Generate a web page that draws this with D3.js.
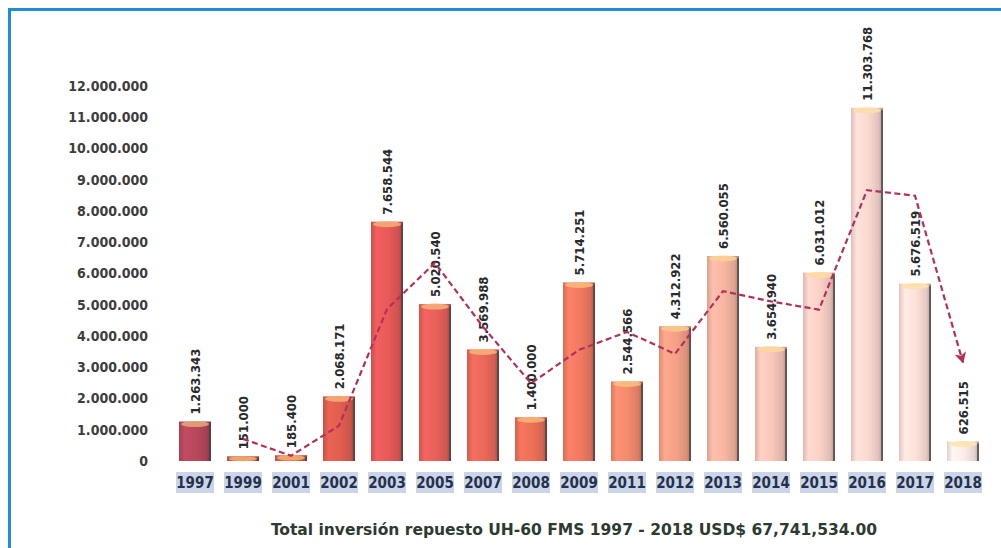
<!DOCTYPE html>
<html lang="es">
<head>
  <meta charset="UTF-8">
  <title>Total inversión repuesto UH-60</title>
  <style>
    body {
      margin: 0;
      background: #fff;
      font-family: "DejaVu Sans Condensed", "DejaVu Sans", sans-serif;
    }
    svg { display: block; }
    .cond { font-family: "DejaVu Sans Condensed", "DejaVu Sans", sans-serif; font-stretch: condensed; font-weight: bold; }
  </style>
</head>
<body>

<div id="chart"></div>

<script src="https://d3js.org/d3.v7.min.js"></script>
<script>
  // Data
  const years = ['1997', '1999', '2001', '2002', '2003', '2005', '2007', '2008', '2009',
                 '2011', '2012', '2013', '2014', '2015', '2016', '2017', '2018'];
  const amounts = [1263343, 151000, 185400, 2068171, 7658544, 5020540, 3569988, 1400000, 5714251,
                   2544566, 4312922, 6560055, 3654940, 6031012, 11303768, 5676519, 626515];
  // dashed trend line (2-period moving average), starts at 1999
  const trendYears = ['1999', '2001', '2002', '2003', '2005', '2007', '2008', '2009',
                      '2011', '2012', '2013', '2014', '2015', '2016', '2017', '2018'];
  const trendAmounts = [707000, 168000, 1127000, 4863000, 6340000, 4295000, 2485000, 3557000,
                        4129000, 3429000, 5436000, 5107000, 4843000, 8667000, 8490000, 3152000];
  const yTicks = [0, 1000000, 2000000, 3000000, 4000000, 5000000, 6000000,
                  7000000, 8000000, 9000000, 10000000, 11000000, 12000000];
  const barColors = ['#b8485c', '#d2604a', '#d9604a', '#e05e50', '#e65a58', '#e8605a', '#ea685c',
                     '#ec7058', '#f07a62', '#f28a6c', '#f4a086', '#f6b6a2', '#f8c6ba', '#f9d0c6',
                     '#fad8d0', '#fce0d8', '#fdebe6'];
  const title = 'Total inversión repuesto UH-60 FMS 1997 - 2018 USD$ 67,741,534.00';

  const width = 1001;
  const height = 548;

  const svg = d3.select('#chart')
    .append('svg')
    .attr('width', width)
    .attr('height', height);

  const defs = svg.append('defs');

  // blue frame (only top and left edges are inside the picture)
  svg.append('rect')
    .attr('x', 9.5)
    .attr('y', 9.5)
    .attr('width', 1100)
    .attr('height', 700)
    .attr('fill', 'none')
    .attr('stroke', '#1c8fd6')
    .attr('stroke-width', 3);

  // Scales
  const xScale = d3.scaleBand()
    .domain(years)
    .range([171, 987])
    .paddingInner(1 / 3)
    .paddingOuter(1 / 6);

  const yScale = d3.scaleLinear()
    .domain([0, 12000000])
    .range([461, 86]);

  const dotted = d => d3.format(',')(d).replace(/,/g, '.');

  // Y axis
  const yAxis = svg.append('g')
    .attr('transform', 'translate(152, 0)')
    .call(d3.axisLeft(yScale).tickValues(yTicks).tickFormat(dotted).tickSize(0).tickPadding(4));
  yAxis.select('.domain').remove();
  yAxis.selectAll('text')
    .attr('class', 'cond')
    .attr('font-size', 14)
    .attr('fill', '#3d3d3d');

  // X axis with shaded label boxes
  const xAxis = svg.append('g')
    .attr('transform', 'translate(0, 472)')
    .call(d3.axisBottom(xScale).tickSize(0).tickPadding(5));
  xAxis.select('.domain').remove();
  xAxis.selectAll('.tick')
    .insert('rect', 'text')
    .attr('x', -19)
    .attr('y', 0)
    .attr('width', 38)
    .attr('height', 21)
    .attr('fill', '#cbd5ea');
  xAxis.selectAll('text')
    .attr('class', 'cond')
    .attr('font-size', 15)
    .attr('fill', '#25304a');

  // per-bar cylinder gradients
  years.forEach((yr, i) => {
    const c = barColors[i];
    const g = defs.append('linearGradient')
      .attr('id', 'bar-' + i)
      .attr('x1', '0%').attr('x2', '100%')
      .attr('y1', '0%').attr('y2', '0%');
    g.append('stop').attr('offset', '0%').attr('stop-color', d3.color(c).darker(0.35));
    g.append('stop').attr('offset', '18%').attr('stop-color', d3.color(c).brighter(0.15));
    g.append('stop').attr('offset', '55%').attr('stop-color', c);
    g.append('stop').attr('offset', '86%').attr('stop-color', d3.color(c).darker(0.3));
    g.append('stop').attr('offset', '100%').attr('stop-color', d3.color(c).darker(1.0));
  });

  const bw = xScale.bandwidth();
  const bars = svg.append('g')
    .selectAll('g')
    .data(years)
    .enter()
    .append('g');

  bars.append('rect')
    .attr('x', d => xScale(d))
    .attr('y', (d, i) => yScale(amounts[i]))
    .attr('width', bw)
    .attr('height', (d, i) => yScale(0) - yScale(amounts[i]))
    .attr('fill', (d, i) => 'url(#bar-' + i + ')');

  // dark right edge
  bars.append('rect')
    .attr('x', d => xScale(d) + bw - 2)
    .attr('y', (d, i) => yScale(amounts[i]) + 2)
    .attr('width', 2)
    .attr('height', (d, i) => Math.max(0, yScale(0) - yScale(amounts[i]) - 2))
    .attr('fill', '#4a4244')
    .attr('opacity', 0.75);

  // top cap highlight
  bars.append('ellipse')
    .attr('cx', d => xScale(d) + bw / 2)
    .attr('cy', (d, i) => yScale(amounts[i]) + 2.5)
    .attr('rx', bw / 2 - 2)
    .attr('ry', (d, i) => Math.min(3, (yScale(0) - yScale(amounts[i])) / 2))
    .attr('fill', (d, i) => d3.interpolateRgb(barColors[i], '#ffe08a')(0.6))
    .attr('opacity', 0.9);

  // value labels
  bars.append('text')
    .attr('class', 'cond')
    .attr('transform', (d, i) =>
      'translate(' + (xScale(d) + bw / 2) + ',' + (yScale(amounts[i]) - 7) + ') rotate(-90)')
    .attr('dy', '0.35em')
    .attr('font-size', 13)
    .attr('fill', '#2a2a2a')
    .text((d, i) => dotted(amounts[i]));

  // trend line with arrow
  defs.append('marker')
    .attr('id', 'arrow')
    .attr('markerUnits', 'userSpaceOnUse')
    .attr('markerWidth', 14)
    .attr('markerHeight', 12)
    .attr('refX', 10)
    .attr('refY', 6)
    .attr('orient', 'auto')
    .append('path')
    .attr('d', 'M0,0 L11,6 L0,12 L3,6 Z')
    .attr('fill', '#b3305c');

  const line = d3.line()
    .x(d => xScale(d[0]) + bw / 2)
    .y(d => yScale(d[1]));

  svg.append('path')
    .datum(trendYears.map((yr, i) => [yr, trendAmounts[i]]))
    .attr('d', line)
    .attr('fill', 'none')
    .attr('stroke', '#b3305c')
    .attr('stroke-width', 2.2)
    .attr('stroke-dasharray', '6,3.5')
    .attr('marker-end', 'url(#arrow)');

  // title
  svg.append('text')
    .attr('class', 'cond')
    .attr('x', 271)
    .attr('y', 535)
    .attr('font-size', 16)
    .attr('fill', '#2c3a30')
    .attr('textLength', 606)
    .attr('lengthAdjust', 'spacingAndGlyphs')
    .text(title);
</script>

</body>
</html>
